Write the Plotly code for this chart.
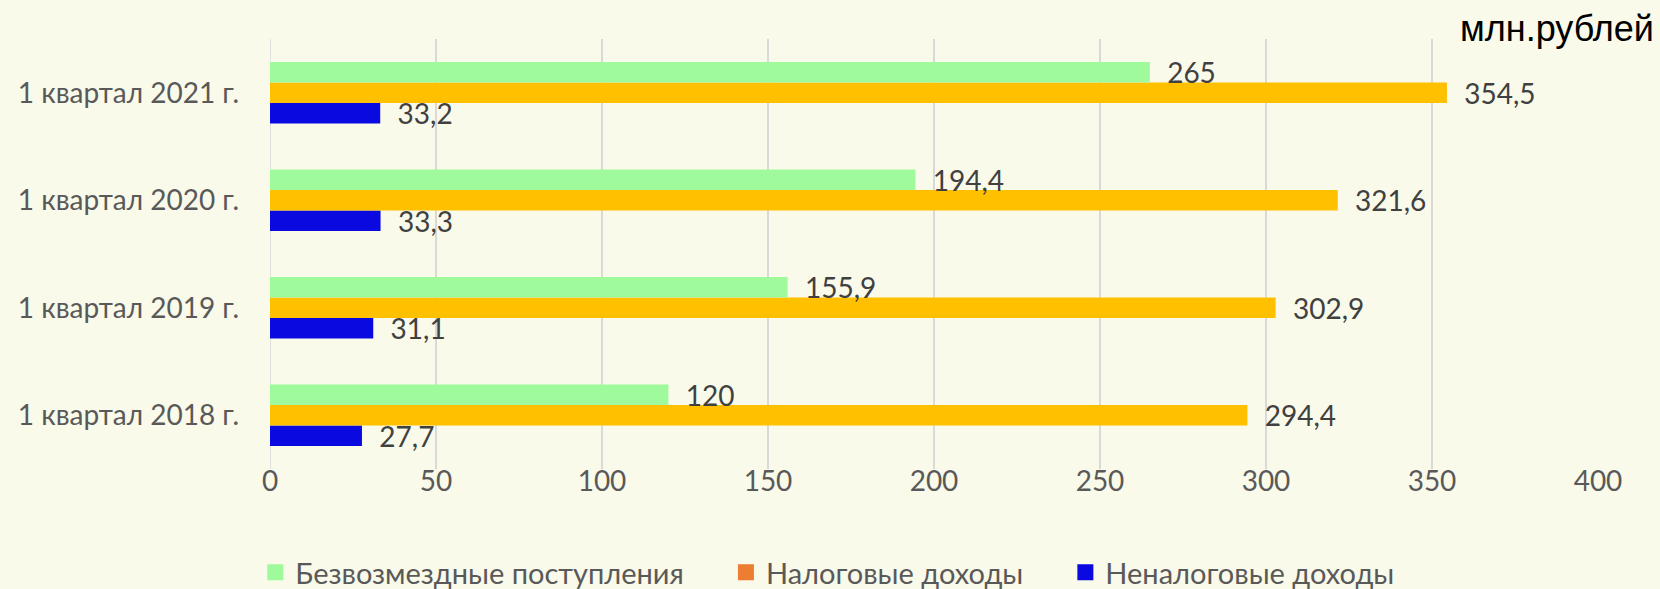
import plotly.graph_objects as go

categories = ["1 квартал 2018 г.", "1 квартал 2019 г.", "1 квартал 2020 г.", "1 квартал 2021 г."]
bezvozmezdnye = [120, 155.9, 194.4, 265]
nalogovye = [294.4, 302.9, 321.6, 354.5]
nenalogovye = [27.7, 31.1, 33.3, 33.2]
x_ticks = [0, 50, 100, 150, 200, 250, 300, 350, 400]

names = ["Безвозмездные поступления", "Налоговые доходы", "Неналоговые доходы"]
bar_colors = ["#9FFA9B", "#FFC000", "#0A0AE0"]
legend_colors = ["#9FFA9B", "#ED7D31", "#0A0AE0"]

def fmt(v):
    return "\u00a0\u00a0" + ("%g" % v).replace(".", ",")

FONT = "Lato, 'Open Sans', sans-serif"
FS = 28

fig = go.Figure()
for vals, name, col in [(nenalogovye, names[2], bar_colors[2]),
                        (nalogovye, names[1], bar_colors[1]),
                        (bezvozmezdnye, names[0], bar_colors[0])]:
    fig.add_trace(go.Bar(
        y=categories, x=vals, orientation="h", name=name,
        marker=dict(color=col, line=dict(width=0)),
        text=[fmt(v) for v in vals], textposition="outside",
        constraintext="none",
        textfont=dict(family=FONT, size=FS, color="#404040"),
        cliponaxis=False, showlegend=False,
    ))

for i, (name, col) in enumerate(zip(names, legend_colors)):
    label = name + ("\u00a0" * 5 if i < len(names) - 1 else "")
    fig.add_trace(go.Scatter(
        x=[None], y=[None], mode="markers", name=label,
        marker=dict(symbol="square", size=19, color=col),
        showlegend=True, legendrank=i + 1,
    ))

fig.update_layout(
    width=1660, height=589,
    margin=dict(l=270, r=62, t=39, b=120, autoexpand=False),
    barmode="group", bargap=0.43, bargroupgap=0,
    paper_bgcolor="#F9FAEA", plot_bgcolor="#F9FAEA",
    font=dict(family=FONT, size=FS, color="#595959"),
    xaxis=dict(range=[0, 400], tickvals=x_ticks, showgrid=True,
               gridcolor="#D9D9D9", gridwidth=1.5, zeroline=False,
               showline=False, ticks="", automargin=False,
               ticklabelstandoff=-7,
               tickfont=dict(size=FS, color="#595959")),
    yaxis=dict(type="category", categoryorder="array", categoryarray=categories,
               showgrid=False, zeroline=False, showline=False, ticks="",
               automargin=False, ticklabelstandoff=30,
               tickfont=dict(size=FS, color="#595959")),
    legend=dict(orientation="h", x=0.42, xanchor="center",
                yref="container", y=0.028, yanchor="middle",
                font=dict(size=29, color="#595959"), bgcolor="rgba(0,0,0,0)",
                itemsizing="trace", traceorder="normal"),
    annotations=[dict(text="млн.рублей", xref="paper", yref="paper",
                      x=1.044, y=1.024, xanchor="right", yanchor="middle",
                      showarrow=False,
                      font=dict(family="Liberation Sans, Arial, sans-serif", size=36, color="#000000"))],
)
fig.add_shape(type="line", xref="x", yref="paper", x0=0, x1=0, y0=0, y1=1,
              line=dict(color="#D9D9D9", width=1.5), layer="below")

fig.write_html("out.html", config={"displayModeBar": False},
               post_script="document.body.style.margin='0';document.body.style.overflow='hidden';")
